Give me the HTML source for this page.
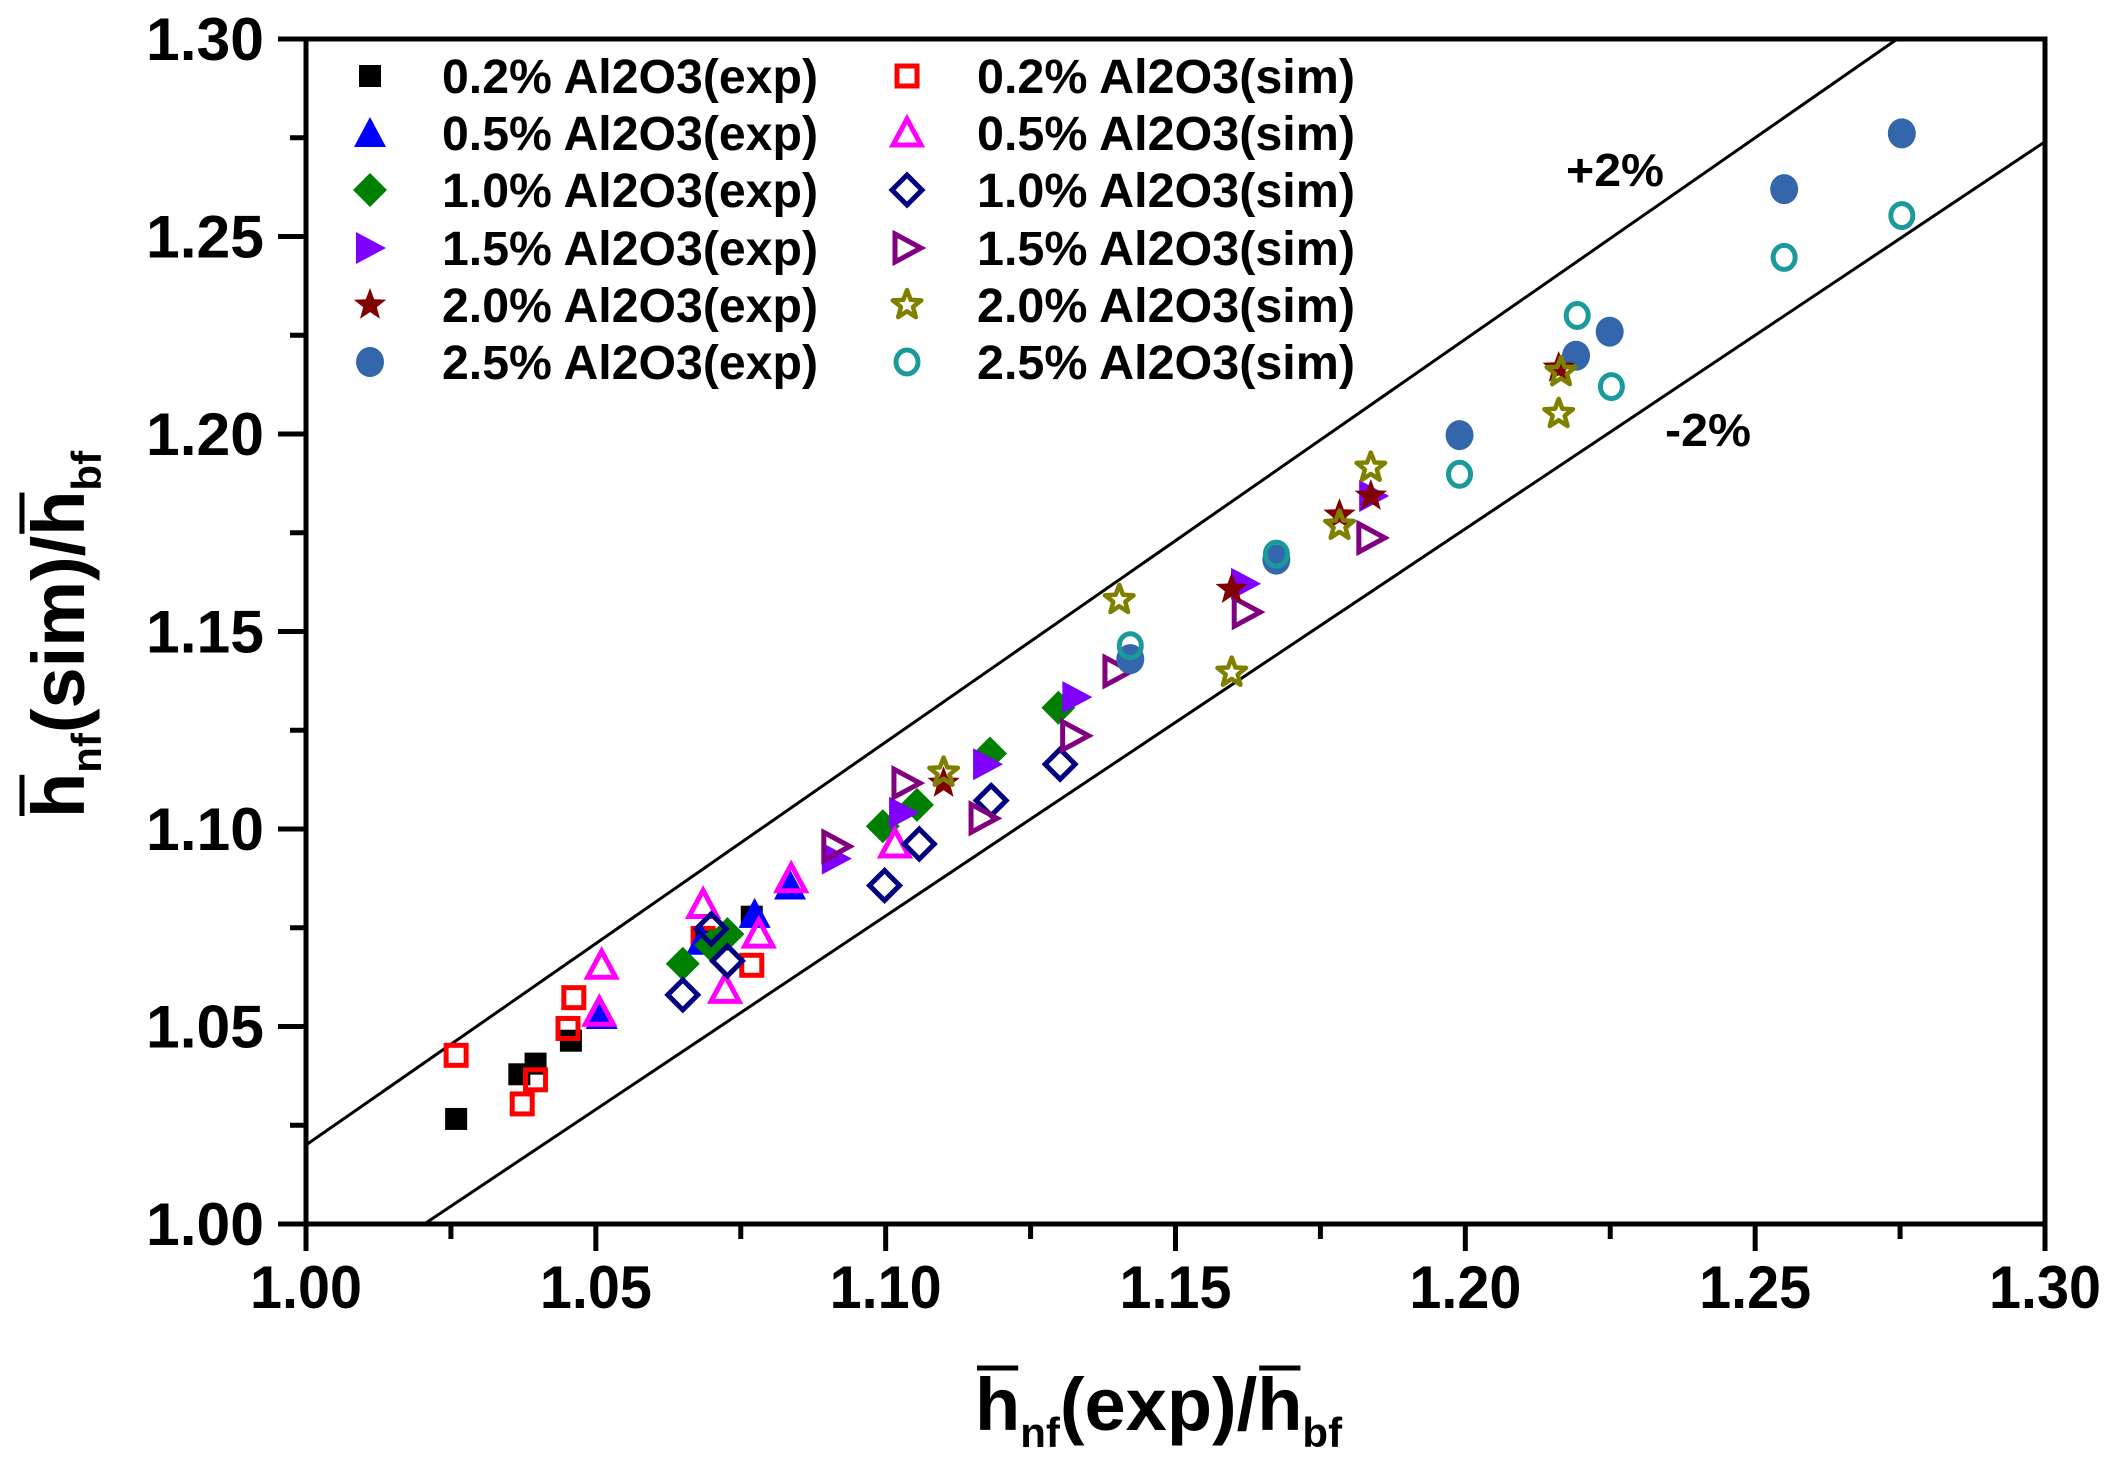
<!DOCTYPE html>
<html><head><meta charset="utf-8">
<style>
html,body{margin:0;padding:0;background:#fff;}
svg{display:block;font-family:"Liberation Sans",Arial,sans-serif;font-weight:bold;}
</style></head>
<body>
<svg id="chart" width="2117" height="1470" viewBox="0 0 2117 1470" xmlns="http://www.w3.org/2000/svg">
<g id="plot"></g>
</svg>
<script>
const xTicks = [1.00, 1.05, 1.10, 1.15, 1.20, 1.25, 1.30];
const yTicks = [1.00, 1.05, 1.10, 1.15, 1.20, 1.25, 1.30];
const tickLabels = ["1.00","1.05","1.10","1.15","1.20","1.25","1.30"];
const seriesNames = ["0.2% Al2O3(exp)","0.5% Al2O3(exp)","1.0% Al2O3(exp)","1.5% Al2O3(exp)","2.0% Al2O3(exp)","2.5% Al2O3(exp)",
  "0.2% Al2O3(sim)","0.5% Al2O3(sim)","1.0% Al2O3(sim)","1.5% Al2O3(sim)","2.0% Al2O3(sim)","2.5% Al2O3(sim)"];
const exp02X = [1.0259,1.0368,1.0396,1.0457,1.0769,1.069];
const exp02Y = [1.0266,1.0379,1.0406,1.0464,1.0778,1.072];
const exp05X = [1.0510,1.0774,1.0835,1.0683];
const exp05Y = [1.0529,1.0785,1.0857,1.0717];
const exp10X = [1.065,1.0727,1.0699,1.0995,1.1054,1.118,1.1298];
const exp10Y = [1.0659,1.0734,1.0706,1.1007,1.1061,1.1191,1.1307];
const exp15X = [1.0914,1.103,1.1175,1.1329,1.162,1.1841];
const exp15Y = [1.0925,1.1041,1.1164,1.1334,1.1621,1.1843];
const exp20X = [1.11,1.1597,1.1783,1.1837,1.2161];
const exp20Y = [1.1116,1.1607,1.1795,1.1843,1.2167];
const exp25X = [1.1422,1.1674,1.199,1.2191,1.2249,1.255,1.2753];
const exp25Y = [1.143,1.1682,1.1997,1.2198,1.2259,1.262,1.2761];
const sim02X = [1.0259,1.0373,1.0396,1.0452,1.0462,1.0769,1.0685];
const sim02Y = [1.0427,1.0304,1.0365,1.0495,1.0573,1.0655,1.0723];
const sim05X = [1.051,1.0506,1.0685,1.0723,1.0781,1.0837,1.1016];
const sim05Y = [1.0655,1.0536,1.0809,1.0594,1.0734,1.0874,1.0962];
const sim10X = [1.065,1.0699,1.0727,1.0998,1.1058,1.1182,1.1301];
const sim10Y = [1.058,1.0747,1.0666,1.0857,1.0962,1.1072,1.1164];
const sim15X = [1.0914,1.1035,1.1168,1.1326,1.1399,1.1622,1.1837];
const sim15Y = [1.0956,1.1116,1.1027,1.1236,1.1399,1.1549,1.1737];
const sim20X = [1.11,1.1403,1.1597,1.1783,1.1837,1.2161,1.2165];
const sim20Y = [1.1143,1.158,1.1396,1.1768,1.1915,1.2051,1.2157];
const sim25X = [1.1422,1.1674,1.199,1.2193,1.2252,1.255,1.2753];
const sim25Y = [1.1464,1.1696,1.1898,1.23,1.212,1.2447,1.2553];

const NS="http://www.w3.org/2000/svg";
const L=306,R=2045,T=39,B=1224;
const X0=1.0,X1=1.3,Y0=1.0,Y1=1.3;
function sx(v){return L+(v-X0)/(X1-X0)*(R-L);}
function sy(v){return B-(v-Y0)/(Y1-Y0)*(B-T);}
const g=document.getElementById('plot');
function mk(tag,attrs,parent){const e=document.createElementNS(NS,tag);for(const k in attrs)e.setAttribute(k,attrs[k]);(parent||g).appendChild(e);return e;}

const defs=mk('defs',{});
const cp=mk('clipPath',{id:'clip'},defs);
mk('rect',{x:L,y:T,width:R-L,height:B-T},cp);

const refUp=mk('line',{x1:sx(1.0),y1:sy(1.02),x2:sx(1.30/1.02),y2:sy(1.30),stroke:'#000','stroke-width':3,'clip-path':'url(#clip)'});


const refDn=mk('line',{x1:sx(1.0/0.98),y1:sy(1.0),x2:sx(1.30),y2:sy(1.30*0.98),stroke:'#000','stroke-width':3,'clip-path':'url(#clip)'});



function marker(shape,color,filled,cx,cy,parent){
  const p=parent||g;
  const fill=filled?color:'none', sw=filled?0:5;
  let e;
  if(shape==='square'){const s=filled?22:20;e=mk('rect',{x:cx-s/2,y:cy-s/2,width:s,height:s,fill:fill,stroke:color,'stroke-width':sw},p);}
  else if(shape==='circle'){e=mk('ellipse',{cx:cx,cy:cy,rx:filled?14:11,ry:filled?15:12,fill:fill,stroke:color,'stroke-width':sw},p);}
  else if(shape==='tri'){const h=filled?14:12;e=mk('polygon',{points:`${cx},${cy-h-2} ${cx+h+2},${cy+h} ${cx-h-2},${cy+h}`,fill:fill,stroke:color,'stroke-width':sw,'stroke-linejoin':'miter'},p);}
  else if(shape==='rtri'){const h=filled?14:12;e=mk('polygon',{points:`${cx-h},${cy-h-2} ${cx+h+2},${cy} ${cx-h},${cy+h+2}`,fill:fill,stroke:color,'stroke-width':sw},p);}
  else if(shape==='diamond'){const h=filled?17:15;e=mk('polygon',{points:`${cx},${cy-h} ${cx+h},${cy} ${cx},${cy+h} ${cx-h},${cy}`,fill:fill,stroke:color,'stroke-width':sw},p);}
  else if(shape==='star'){const ro=filled?17:15,ri=ro*0.42;let pts=[];for(let i=0;i<10;i++){const r=i%2?ri:ro;const a=-Math.PI/2+i*Math.PI/5;pts.push((cx+r*Math.cos(a)).toFixed(1)+','+(cy+r*Math.sin(a)).toFixed(1));}
    e=mk('polygon',{points:pts.join(' '),fill:fill,stroke:color,'stroke-width':filled?0:4.5,'stroke-linejoin':'round'},p);}
  return e;
}

const series=[
 {x:exp02X,y:exp02Y,shape:'square',color:'#000000',filled:true,name:'series-0-2-exp'},
 {x:sim02X,y:sim02Y,shape:'square',color:'#ff0000',filled:false,name:'series-0-2-sim'},
 {x:exp05X,y:exp05Y,shape:'tri',color:'#0000ff',filled:true,name:'series-0-5-exp'},
 {x:exp10X,y:exp10Y,shape:'diamond',color:'#008000',filled:true,name:'series-1-0-exp'},
 {x:sim05X,y:sim05Y,shape:'tri',color:'#ff00ff',filled:false,name:'series-0-5-sim'},
 {x:sim10X,y:sim10Y,shape:'diamond',color:'#000080',filled:false,name:'series-1-0-sim'},
 {x:exp15X,y:exp15Y,shape:'rtri',color:'#8000ff',filled:true,name:'series-1-5-exp'},
 {x:sim15X,y:sim15Y,shape:'rtri',color:'#800080',filled:false,name:'series-1-5-sim'},
 {x:exp25X,y:exp25Y,shape:'circle',color:'#3366aa',filled:true,name:'series-2-5-exp'},
 {x:sim25X,y:sim25Y,shape:'circle',color:'#1a9a9a',filled:false,name:'series-2-5-sim'},
 {x:exp20X,y:exp20Y,shape:'star',color:'#800000',filled:true,name:'series-2-0-exp'},
 {x:sim20X,y:sim20Y,shape:'star',color:'#808000',filled:false,name:'series-2-0-sim'}
];
series.forEach(s=>{
  const grp=mk('g',{});
  
  
  for(let i=0;i<s.x.length;i++){
    const m=marker(s.shape,s.color,s.filled,sx(s.x[i]),sy(s.y[i]),grp);
    
    
  }
});

const frame=mk('rect',{x:L,y:T,width:R-L,height:B-T,fill:'none',stroke:'#000','stroke-width':5});



xTicks.forEach((v,i)=>{
  const x=sx(v);
  const t=mk('line',{x1:x,y1:B,x2:x,y2:B+27,stroke:'#000','stroke-width':5});
  
  
  if(i<xTicks.length-1){const xm=sx(v+0.025);const mt=mk('line',{x1:xm,y1:B,x2:xm,y2:B+15,stroke:'#000','stroke-width':5});
    
    }
  const lb=mk('text',{x:x,y:B+84,'text-anchor':'middle','font-size':60,textLength:112,lengthAdjust:'spacingAndGlyphs',fill:'#000'});
  lb.textContent=tickLabels[i];
  
  
});
yTicks.forEach((v,i)=>{
  const y=sy(v);
  const t=mk('line',{x1:L-28,y1:y,x2:L,y2:y,stroke:'#000','stroke-width':5});
  
  
  if(i<yTicks.length-1){const ym=sy(v+0.025);const mt=mk('line',{x1:L-16,y1:ym,x2:L,y2:ym,stroke:'#000','stroke-width':5});
    
    }
  const lb=mk('text',{x:264,y:y+21,'text-anchor':'end','font-size':60,textLength:118,lengthAdjust:'spacingAndGlyphs',fill:'#000'});
  lb.textContent=tickLabels[i];
  
  
});

const legend=mk('g',{});


const legShapes=['square','tri','diamond','rtri','star','circle'];
const legExpColors=['#000000','#0000ff','#008000','#8000ff','#800000','#3366aa'];
const legSimColors=['#ff0000','#ff00ff','#000080','#800080','#808000','#1a9a9a'];
const rowsY=[76,133,190,248,305,362];
for(let i=0;i<6;i++){
  for(let c=0;c<2;c++){
    const ent=mk('g',{},legend);
    
    
    const mx=c===0?370:907, tx=c===0?442:977;
    marker(legShapes[i],c===0?legExpColors[i]:legSimColors[i],c===0,mx,rowsY[i],ent);
    const tt=mk('text',{x:tx,y:rowsY[i]+17,'font-size':48,textLength:c===0?376:378,lengthAdjust:'spacingAndGlyphs',fill:'#000'},ent);
    tt.textContent=seriesNames[c*6+i];
  }
}

const a1=mk('text',{x:1566,y:186,'font-size':46,textLength:98,lengthAdjust:'spacingAndGlyphs'});
a1.textContent='+2%';


const a2=mk('text',{x:1665,y:446,'font-size':46,textLength:86,lengthAdjust:'spacingAndGlyphs'});
a2.textContent='-2%';



// axis titles with overlines computed from glyph positions
function title(name,transform,x,y,mid){
  const grp=mk('g',{transform:transform});
  
  
  const t=mk('text',{x:x,y:y,'font-size':74,fill:'#000'},grp);
  t.innerHTML='<tspan>h</tspan><tspan font-size="42" dy="17">nf</tspan><tspan dy="-17">'+mid+'/h</tspan><tspan font-size="42" dy="17">bf</tspan>';
  const hIdx=[0,3+mid.length+1];
  hIdx.forEach(k=>{
    const s=t.getStartPositionOfChar(k), e=t.getEndPositionOfChar(k);
    const ol=mk('line',{x1:s.x+2,y1:y-62,x2:e.x-2,y2:y-62,stroke:'#000','stroke-width':5},grp);
    
    
  });
}
title('x-axis-title','',975,1430,'(exp)');
title('y-axis-title','translate(84,818) rotate(-90)',0,0,'(sim)');
</script>
</body></html>
